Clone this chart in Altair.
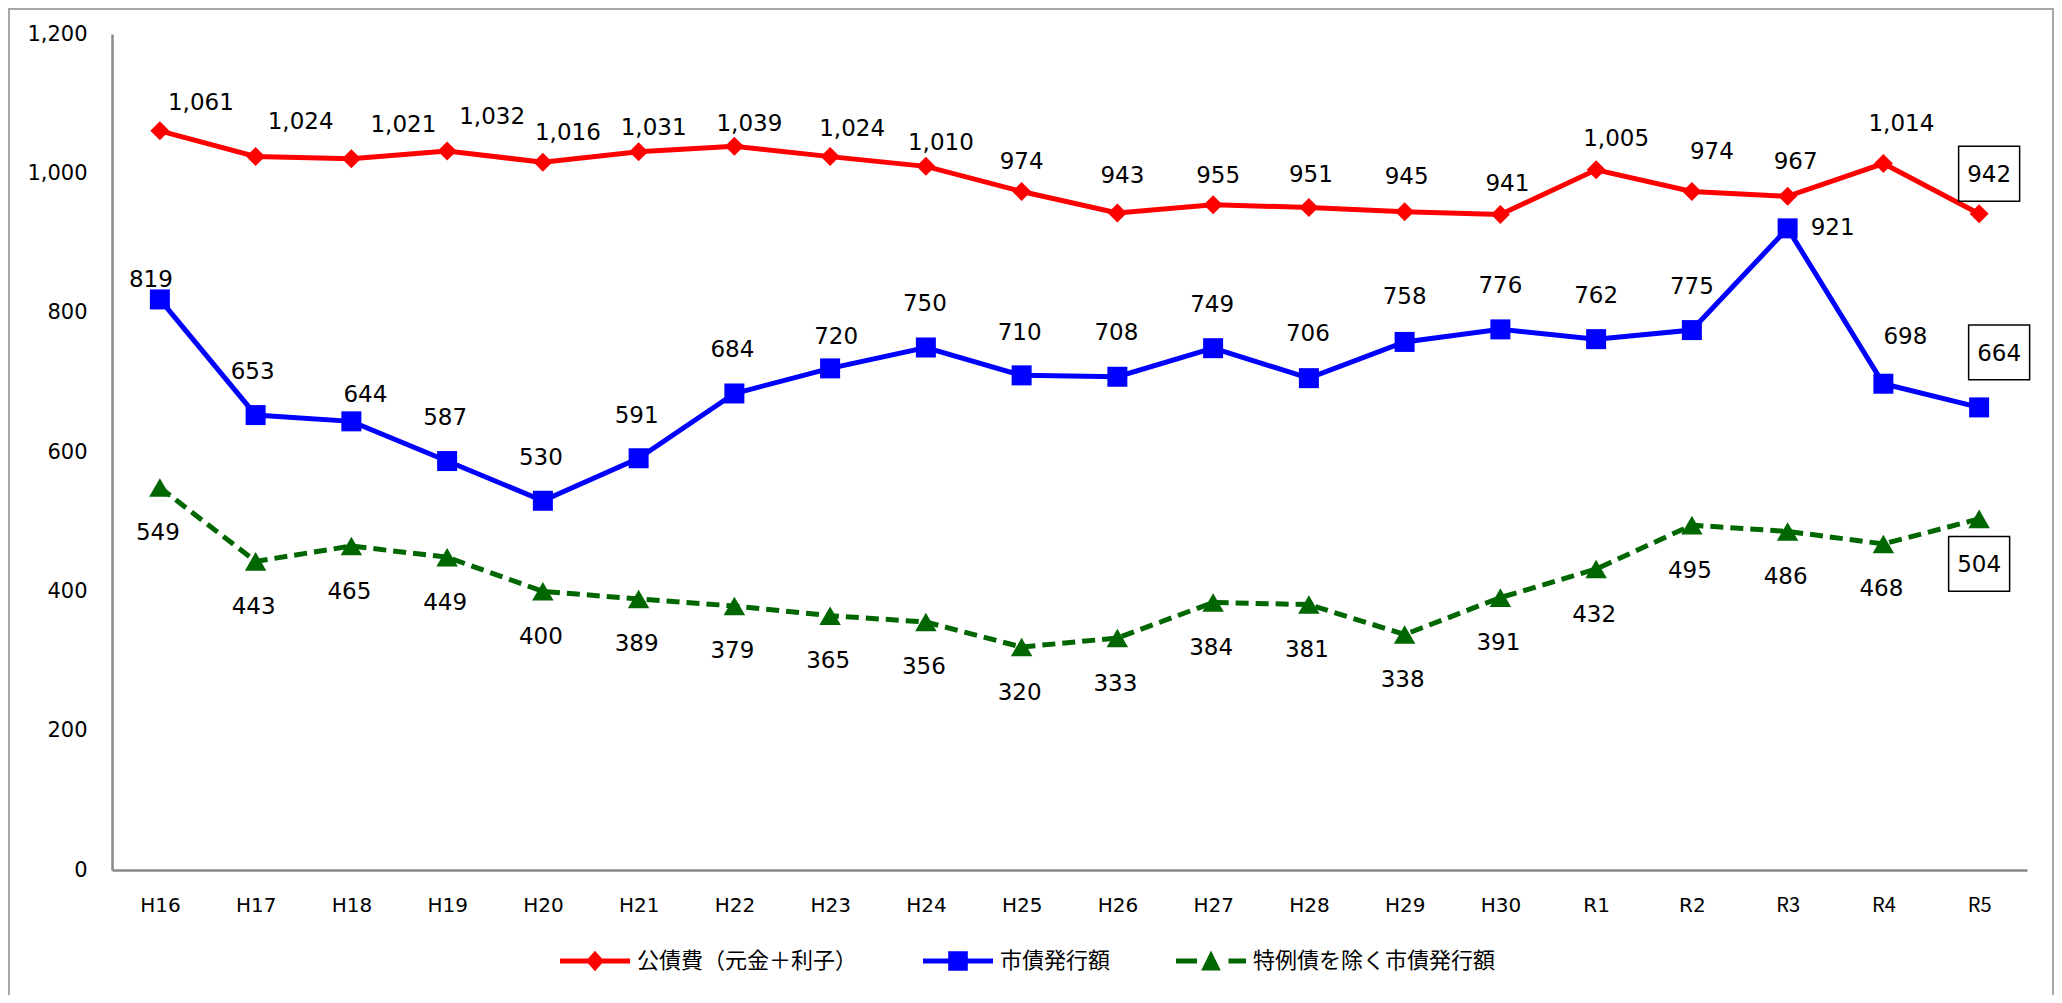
import altair as alt
import pandas as pd

# ---------------- data ----------------
years = ["H16", "H17", "H18", "H19", "H20", "H21", "H22", "H23", "H24", "H25",
         "H26", "H27", "H28", "H29", "H30", "R1", "R2", "R3", "R4", "R5"]
series_names = ["公債費（元金＋利子）", "市債発行額", "特例債を除く市債発行額"]
debt_service = [1061, 1024, 1021, 1032, 1016, 1031, 1039, 1024, 1010, 974,
                943, 955, 951, 945, 941, 1005, 974, 967, 1014, 942]
bond_issue = [819, 653, 644, 587, 530, 591, 684, 720, 750, 710,
              708, 749, 706, 758, 776, 762, 775, 921, 698, 664]
bond_excl = [549, 443, 465, 449, 400, 389, 379, 365, 356, 320,
             333, 384, 381, 338, 391, 432, 495, 486, 468, 504]
boxed_year = "R5"

# ---------------- label nudges (pixels, layout only) ----------------
red_dx = [41, 45, 52, 45, 25, 15, 15, 22, 15, 0, 5, 5, 2, 2, 7, 20, 20, 8, 18, 10]
red_dy = [-29, -36, -35, -36, -31, -25, -24, -29, -25, -31, -39, -30, -34, -36, -32, -32, -41, -36, -41, -40]
blue_dx = [-9, -3, 14, -2, -2, -2, -2, 6, -1, -2, -1, -1, -1, 0, 0, 0, 0, 45, 22, 20]
blue_dy = [-21, -45, -28, -45, -44, -44, -45, -33, -45, -44, -45, -45, -46, -46, -45, -45, -45, -2, -48, -55]
green_dx = [-2] * 19 + [0]
green_dy = [44] * 19 + [45]

colors = ["#FF0000", "#0000FF", "#006600"]
legend_paths = [
    "M-1,-0.07H1V0.07H-1Z M-0.26,0L0,-0.29L0.26,0L0,0.29Z",
    "M-1,-0.07H1V0.07H-1Z M-0.28,-0.28H0.28V0.28H-0.28Z",
    "M-1,-0.07H-0.4V0.07H-1Z M0.5,-0.07H1V0.07H0.5Z M0,-0.3L0.28,0.27L-0.28,0.27Z",
]

PLOT_W, PLOT_H = 1915, 836
Y_MAX = 1200
PX_TO_UNITS = Y_MAX / PLOT_H

rows = []
for s, vals, dxs, dys in zip(series_names,
                              [debt_service, bond_issue, bond_excl],
                              [red_dx, blue_dx, green_dx],
                              [red_dy, blue_dy, green_dy]):
    for y, v, dx, dy in zip(years, vals, dxs, dys):
        rows.append({"year": y, "series": s, "value": v, "dx": dx, "dy": dy})
df = pd.DataFrame(rows)

AXIS_GRAY = "#898989"
NUM_FONT = "DejaVu Sans"

x_enc = alt.X("year:N", sort=years,
              scale=alt.Scale(type="point", padding=0.5),
              axis=alt.Axis(title=None, labelAngle=0, ticks=False, tickSize=0,
                            labelPadding=25, labelFontSize=20,
                            labelFont={"condition": {"test": "indexof(['R3','R4','R5'], datum.value) >= 0",
                                                     "value": "Noto Sans CJK JP"},
                                       "value": NUM_FONT},
                            labelColor="black", domainColor=AXIS_GRAY, domainWidth=2.5,
                            grid=False))
y_axis = alt.Axis(title=None, values=[0, 200, 400, 600, 800, 1000, 1200],
                  format=",.0f", ticks=False, tickSize=0, labelPadding=25,
                  labelFontSize=21, labelFont=NUM_FONT, labelColor="black",
                  domainColor=AXIS_GRAY, domainWidth=2.5, grid=False)
y_scale = alt.Scale(domain=[0, Y_MAX], nice=False, zero=True)
y_enc = alt.Y("value:Q", scale=y_scale, axis=y_axis)

base = alt.Chart(df).encode(x=x_enc, y=y_enc)

shapes = ["diamond", "square", "triangle-up"]
sizes = [361, 400, 460]
layers = []

# border frame
frame = alt.Chart(pd.DataFrame({"f": [0]})).mark_rect(
    fillOpacity=0, stroke="#A6A6A6", strokeWidth=2
).encode(x=alt.value(-103), x2=alt.value(1941), y=alt.value(-25), y2=alt.value(1000))
layers.append(frame)

for i in [2, 1, 0]:
    s = series_names[i]
    sub = base.transform_filter(alt.datum.series == s)
    line_kwargs = dict(color=colors[i], strokeWidth=5)
    if i == 2:
        line_kwargs["strokeDash"] = [13, 7]
    layers.append(sub.mark_line(**line_kwargs))
    layers.append(sub.mark_point(filled=True, shape=shapes[i], size=sizes[i],
                                 color=colors[i], opacity=1, strokeWidth=0))

label_base = alt.Chart(df).transform_calculate(
    label_y=f"datum.value - datum.dy * {PX_TO_UNITS}"
).encode(
    x=x_enc,
    y=alt.Y("label_y:Q", scale=y_scale, axis=y_axis),
    xOffset=alt.XOffset("dx:Q", scale=None),
)

labels = label_base.mark_text(fontSize=23, font=NUM_FONT, color="black", dy=1.5,
                              align="center", baseline="middle").encode(
    text=alt.Text("value:Q", format=","),
)
layers.append(labels)

boxes = label_base.transform_filter(alt.datum.year == boxed_year).mark_point(
    shape="M-1,-0.9H1V0.9H-1Z", size=3721, filled=False, stroke="black",
    strokeWidth=1.5, opacity=1
)
layers.append(boxes)

leg = alt.Legend(title=None, orient="none", legendX=448, legendY=892,
                 direction="horizontal", symbolSize=4900, symbolStrokeWidth=0,
                 labelFont="Noto Sans CJK JP", labelFontSize=22, labelColor="black",
                 labelOffset=7, columnPadding=65, padding=0, labelLimit=0)
legend_layer = base.transform_filter("false").mark_point(filled=True, opacity=1).encode(
    color=alt.Color("series:N", scale=alt.Scale(domain=series_names, range=colors), legend=leg),
    shape=alt.Shape("series:N", scale=alt.Scale(domain=series_names, range=legend_paths), legend=leg),
)
layers.append(legend_layer)

chart = alt.layer(*layers).properties(
    width=PLOT_W, height=PLOT_H,
    autosize=alt.AutoSizeParams(type="none"),
    padding={"left": 104, "top": 26, "right": 27, "bottom": 125},
    background="white",
).configure_view(stroke=None)

chart.save("out.html", embed_options={"renderer": "svg", "actions": False})
